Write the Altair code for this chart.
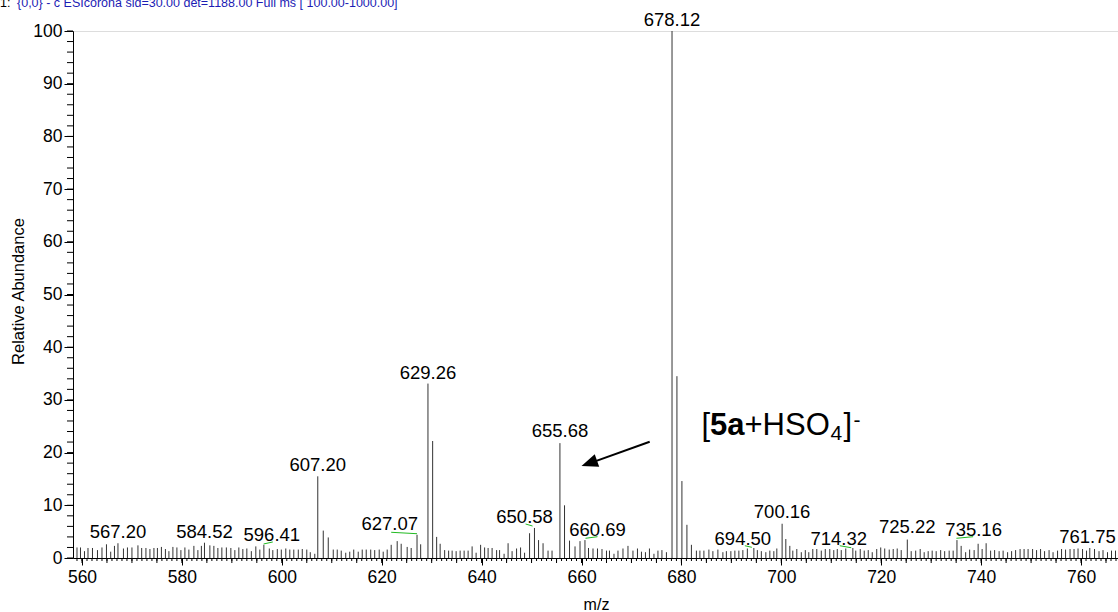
import altair as alt
import pandas as pd

# Centroided peaks: m/z and relative abundance (%)
mz = [
    559.0, 559.7, 560.5, 561.2, 562.1, 563.1, 564.0, 564.9, 565.75, 566.5,
    567.2, 568.3, 569.1, 570.0, 571.2, 571.95, 572.8, 573.6, 574.4, 575.1,
    575.9, 576.7, 577.4, 578.2, 579.0, 579.8, 580.6, 581.4, 582.4, 583.2,
    583.9, 584.52, 585.6, 586.4, 587.2, 588.0, 588.9, 589.8, 590.6, 591.4,
    592.2, 593.0, 593.9, 594.8, 595.6, 596.41, 597.5, 598.2, 599.1, 599.9,
    600.8, 601.6, 602.4, 603.3, 604.1, 605.0, 605.7, 606.6, 607.2, 608.3,
    609.3, 610.3, 611.1, 611.9, 612.8, 613.6, 614.4, 615.3, 616.1, 616.9,
    617.8, 618.6, 619.5, 620.3, 621.1, 621.9, 623.1, 623.9, 625.1, 625.9,
    627.07, 627.8, 629.26, 630.2, 631.0, 631.7, 632.6, 633.4, 634.1, 634.9,
    635.7, 636.5, 637.3, 638.1, 638.9, 639.8, 640.6, 641.3, 642.1, 643.0,
    643.6, 644.5, 645.3, 646.1, 647.0, 647.8, 648.6, 649.6, 650.58, 651.4,
    652.3, 653.3, 654.1, 655.68, 656.6, 657.6, 658.7, 659.7, 660.69, 661.4,
    662.3, 663.2, 664.1, 665.0, 665.6, 666.5, 667.3, 668.3, 669.3, 670.3,
    671.2, 672.0, 672.8, 673.6, 674.5, 675.3, 676.1, 677.0, 678.12, 679.1,
    680.1, 681.1, 682.0, 683.0, 683.7, 684.5, 685.5, 686.3, 687.3, 688.3,
    689.0, 689.9, 690.7, 691.5, 692.3, 693.2, 694.5, 695.2, 696.0, 696.9,
    697.7, 698.5, 699.1, 700.16, 700.9, 701.7, 702.3, 703.1, 704.0, 704.8,
    705.5, 706.3, 707.1, 708.0, 708.8, 709.7, 710.5, 711.2, 712.0, 712.9,
    714.32, 714.9, 715.8, 716.6, 717.4, 718.2, 719.1, 719.9, 720.7, 721.6,
    722.4, 723.2, 724.0, 725.22, 726.0, 726.9, 727.8, 728.6, 729.4, 730.2,
    731.0, 731.9, 732.7, 733.6, 734.4, 735.16, 736.0, 736.9, 737.7, 738.6,
    739.4, 740.2, 741.0, 741.9, 742.7, 743.6, 744.4, 745.3, 746.1, 746.9,
    747.8, 748.6, 749.4, 750.3, 751.1, 751.9, 752.7, 753.6, 754.4, 755.3,
    756.1, 756.9, 757.8, 758.6, 759.4, 760.3, 761.1, 761.75, 762.7, 763.6,
    764.4, 765.3, 766.1, 766.9,
]
abundance = [
    2.0, 2.0, 1.3, 1.9, 1.9, 1.5, 2.0, 2.6, 1.2, 2.3,
    2.8, 1.8, 2.0, 2.0, 2.4, 1.9, 1.9, 1.7, 1.9, 1.9,
    2.1, 1.7, 1.3, 2.1, 2.0, 1.5, 2.0, 1.6, 2.3, 1.5,
    2.3, 2.9, 2.4, 2.3, 1.9, 2.0, 2.0, 1.9, 1.5, 2.0,
    1.7, 1.8, 1.3, 2.2, 1.6, 2.5, 1.8, 1.5, 1.7, 1.6,
    1.8, 1.6, 1.6, 1.6, 1.7, 1.6, 1.1, 0.8, 15.5, 5.2,
    3.9, 1.6, 1.6, 1.4, 1.0, 1.2, 1.6, 1.2, 1.6, 1.6,
    1.6, 1.5, 1.6, 1.2, 1.6, 2.5, 3.2, 2.7, 2.1, 1.9,
    4.4, 2.6, 33.1, 22.2, 4.0, 2.7, 1.5, 1.4, 1.4, 1.3,
    1.4, 1.4, 1.4, 2.2, 1.0, 2.5, 2.0, 1.9, 1.9, 1.5,
    1.5, 0.8, 2.8, 1.3, 1.8, 2.0, 1.0, 4.7, 5.7, 3.4,
    2.8, 1.4, 1.4, 21.8, 10.0, 3.3, 2.2, 3.2, 3.4, 1.9,
    1.8, 1.8, 1.7, 1.4, 1.4, 0.8, 1.4, 1.8, 2.3, 1.4,
    1.8, 1.2, 1.1, 1.8, 0.8, 1.4, 1.5, 1.1, 100.0, 34.5,
    14.6, 6.3, 2.5, 1.4, 1.4, 1.4, 1.6, 1.3, 1.6, 1.1,
    1.3, 1.3, 1.4, 1.4, 1.5, 1.8, 1.9, 1.5, 1.3, 1.1,
    1.4, 1.3, 1.8, 6.5, 3.6, 2.3, 1.4, 1.7, 1.1, 1.5,
    1.1, 1.7, 1.7, 1.4, 1.7, 1.7, 1.5, 1.7, 1.5, 1.8,
    1.9, 1.4, 1.7, 1.4, 1.5, 1.1, 1.7, 2.0, 1.8, 1.6,
    1.7, 1.8, 1.5, 3.5, 1.3, 1.4, 1.7, 1.1, 1.3, 1.4,
    1.3, 1.5, 1.3, 1.4, 1.4, 3.4, 2.3, 1.1, 1.6, 1.5,
    2.7, 1.7, 2.8, 1.4, 1.5, 1.3, 1.4, 1.1, 1.3, 1.5,
    1.7, 1.7, 1.7, 1.7, 1.5, 1.7, 1.3, 1.5, 1.1, 1.4,
    1.7, 1.6, 1.7, 1.7, 1.8, 1.7, 1.4, 1.9, 1.7, 1.3,
    1.5, 1.1, 1.4, 1.4,
]

# Peak annotations: text, anchor m/z, baseline abundance
label_text = ["567.20", "584.52", "596.41", "607.20", "627.07", "629.26",
              "650.58", "655.68", "660.69", "678.12", "694.50", "700.16",
              "714.32", "725.22", "735.16", "761.75"]
label_mz = [567.2, 584.52, 598.0, 607.2, 621.6, 629.26,
            648.6, 655.68, 663.2, 678.12, 692.3, 700.16,
            711.5, 725.22, 738.5, 761.3]
label_ab = [3.8, 3.8, 3.2, 16.6, 5.3, 34.0,
            6.6, 23.0, 4.2, 100.9, 2.5, 7.6,
            2.5, 4.7, 4.2, 2.8]

# Leader lines joining displaced labels to their peaks
lead_x1 = [596.36, 621.9, 648.8, 660.8, 692.7, 711.7, 735.05]
lead_y1 = [2.66, 4.88, 6.45, 3.74, 2.33, 2.33, 3.74]
lead_x2 = [598.2, 627.07, 650.2, 663.2, 694.1, 714.0, 738.4]
lead_y2 = [3.04, 4.61, 6.07, 4.04, 2.03, 1.95, 4.04]

# Axis ticks
x_major = [560, 580, 600, 620, 640, 660, 680, 700, 720, 740, 760]
x_mid = list(range(560, 767, 5))
x_minor = list(range(559, 768))
y_major = [0, 10, 20, 30, 40, 50, 60, 70, 80, 90, 100]
y_minor = list(range(0, 101, 2))

FONT = "Liberation Sans"
PLOT_H = 527

peaks = pd.DataFrame({"mz": mz, "ab": abundance})
labels = pd.DataFrame({"t": label_text, "mz": label_mz, "ab": label_ab})
leads = pd.DataFrame({"x1": lead_x1, "y1": lead_y1, "x2": lead_x2, "y2": lead_y2})

xs = alt.Scale(domain=[558.2, 767.4], nice=False, zero=False)
ys = alt.Scale(domain=[0, 100], nice=False)


def X(field):
    return alt.X(field, scale=xs, axis=None)


def Y(field):
    return alt.Y(field, scale=ys, axis=None)


sticks = alt.Chart(peaks).mark_rule(color="#333333", strokeWidth=1).encode(
    x=alt.X("mz:Q", scale=xs, axis=alt.Axis(
        orient="bottom", values=x_major, format="d", tickSize=7,
        labelFontSize=17.5, labelPadding=3, labelFont=FONT, labelColor="black",
        domainColor="black", tickColor="black", grid=False,
        title="m/z", titleFont=FONT, titleFontSize=16, titleFontWeight="normal",
        titleColor="black", titleX=523, titleY=51, titleBaseline="alphabetic")),
    y=alt.Y("ab:Q", scale=ys, axis=alt.Axis(
        orient="left", values=y_major, format="d", tickSize=9,
        labelFontSize=17.5, labelPadding=2, labelFont=FONT, labelColor="black",
        domainColor="black", tickColor="black", grid=False,
        title="Relative Abundance", titleFont=FONT, titleFontSize=16.5,
        titleFontWeight="normal", titleColor="black", titleAngle=270,
        titleX=-55, titleY=260, titleAlign="center", titleBaseline="middle")),
    y2=alt.datum(0),
)

# Secondary tick marks along both axes
xmid_rules = alt.Chart(pd.DataFrame({"v": x_mid})).mark_rule(
    color="black", strokeWidth=1
).encode(x=X("v:Q"), y=alt.value(PLOT_H), y2=alt.value(PLOT_H + 5))
xminor_rules = alt.Chart(pd.DataFrame({"v": x_minor})).mark_rule(
    color="black", strokeWidth=1
).encode(x=X("v:Q"), y=alt.value(PLOT_H), y2=alt.value(PLOT_H + 3))
yminor_rules = alt.Chart(pd.DataFrame({"v": y_minor})).mark_rule(
    color="black", strokeWidth=1
).encode(y=Y("v:Q"), x=alt.value(0), x2=alt.value(-6))

peak_labels = alt.Chart(labels).mark_text(
    font=FONT, fontSize=18.5, color="black", align="center", baseline="alphabetic"
).encode(x=X("mz:Q"), y=Y("ab:Q"), text="t:N")

leaders = alt.Chart(leads).mark_rule(color="#22bb22", strokeWidth=1).encode(
    x=X("x1:Q"), y=Y("y1:Q"), x2="x2:Q", y2="y2:Q",
)

# Arrow pointing at the [5a+HSO4]- ion
arrow_tail = (673.65, 22.07)
arrow_tip = (660.0, 17.45)
arrow_df = pd.DataFrame({"x1": [arrow_tail[0]], "y1": [arrow_tail[1]],
                         "x2": [arrow_tip[0] + 2.0], "y2": [arrow_tip[1] + 0.65]})
arrow_line = alt.Chart(arrow_df).mark_rule(color="black", strokeWidth=2).encode(
    x=X("x1:Q"), y=Y("y1:Q"), x2="x2:Q", y2="y2:Q"
)
head_df = pd.DataFrame({"x": [arrow_tip[0]], "y": [arrow_tip[1]]})
arrow_head = alt.Chart(head_df).mark_point(
    shape="M 0 0 L -1.6 -0.65 L -1.6 0.65 Z", filled=True, color="black",
    opacity=1, size=420, angle=160.4, strokeWidth=0
).encode(x=X("x:Q"), y=Y("y:Q"))

# Ion formula built from pieces (bold compound number, subscript, charge)
ion_x, ion_y = 684.0, 23.4
ion_parts = [
    ("[", 0, 0, 31, "normal"),
    ("5a", 8.6, 0, 31, "bold"),
    ("+HSO", 43.1, 0, 31, "normal"),
    ("4", 129, 5, 21, "normal"),
    ("]", 142, 0, 31, "normal"),
    ("-", 152, -8, 21, "normal"),
]
ion_layers = []
for txt, dx, dy, fs, fw in ion_parts:
    ion_layers.append(
        alt.Chart(pd.DataFrame({"x": [ion_x], "y": [ion_y], "t": [txt]}))
        .mark_text(font=FONT, fontSize=fs, fontWeight=fw, align="left",
                   baseline="alphabetic", dx=dx, dy=dy, color="black")
        .encode(x=X("x:Q"), y=Y("y:Q"), text="t:N")
    )

# Scan header line above the plot
hdr = pd.DataFrame({"t": ["1:"]})
hdr_num = alt.Chart(hdr).mark_text(
    font=FONT, fontSize=12.5, color="black", align="left", baseline="alphabetic"
).encode(x=alt.value(-73), y=alt.value(-24), text="t:N")
hdr2 = pd.DataFrame({"t": ["{0,0} - c ESIcorona sid=30.00  det=1188.00 Full ms [ 100.00-1000.00]"]})
hdr_txt = alt.Chart(hdr2).mark_text(
    font=FONT, fontSize=12.5, color="#1c1cb4", align="left", baseline="alphabetic"
).encode(x=alt.value(-56), y=alt.value(-24), text="t:N")

chart = alt.layer(
    xminor_rules, xmid_rules, yminor_rules, sticks, leaders, peak_labels,
    arrow_line, arrow_head, *ion_layers, hdr_num, hdr_txt
).resolve_axis(x="independent", y="independent").properties(
    width=1045, height=PLOT_H,
    padding={"left": 73, "top": 31, "right": 0, "bottom": 54},
    autosize="none",
).configure_view(stroke=None, clip=False).configure(background="white")

chart.save("out.html", embed_options={"renderer": "svg", "actions": False})
